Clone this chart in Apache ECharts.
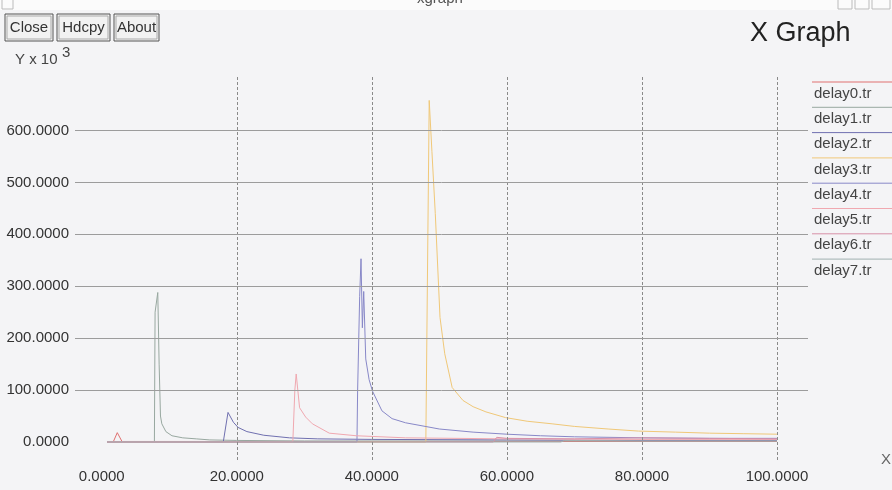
<!DOCTYPE html>
<html>
<head>
<meta charset="utf-8">
<script src="https://cdn.jsdelivr.net/npm/echarts@6/dist/echarts.min.js"></script>
<style>html,body{margin:0;padding:0;background:#f4f4f6;}#c{width:892px;height:490px;}</style>
</head>
<body>
<div id="c"></div>
<script>
// ---- data ----
const xTicks = [0, 20, 40, 60, 80, 100];
const yTicks = [0, 100, 200, 300, 400, 500, 600];
const xGridTicks = [20, 40, 60, 80, 100];
const yGridTicks = [100, 200, 300, 400, 500, 600];
const seriesNames = ['delay0.tr','delay1.tr','delay2.tr','delay3.tr','delay4.tr','delay5.tr','delay6.tr','delay7.tr'];

const delay0 = [[0.8,0],[1.7,0],[2.3,18],[3.0,1],[10,1],[30,1],[60,1],[100,1]];
const delay1 = [[0.8,0],[7.8,0],[7.9,250],[8.3,288],[8.5,150],[8.7,50],[8.9,35],[9.5,20],[10.4,12],[12,8],[14,6],[16,4],[20,3],[30,2],[60,2],[100,2]];
const delay2 = [[0.8,0],[18.0,0],[18.7,57],[19.5,38],[20.2,28],[21.5,20],[24,13],[27.8,8],[32,6],[40,5],[60,4],[80,3],[100,3]];
const delay3 = [[0.8,0],[48.0,0],[48.3,400],[48.5,658],[48.9,560],[49.4,440],[50.1,240],[50.8,170],[51.9,105],[53.5,80],[55,68],[56.9,58],[59.8,47],[63,40],[66.7,35],[70,30],[75,25],[79.5,21],[85,19],[90,17],[95,16],[100,15]];
const delay4 = [[0.8,0],[37.8,0],[37.9,100],[38.2,280],[38.4,353],[38.6,220],[38.8,290],[39.1,160],[39.6,120],[40.1,98],[41.5,60],[43,45],[45,37],[50,25],[55,19],[60,15],[65,12],[70,10],[80,8],[90,7],[100,7]];
const delay5 = [[0.8,0],[28.3,0],[28.6,100],[28.8,131],[29.3,66],[30.2,48],[31.2,35],[33.7,17],[37.7,12],[45,8],[60,6],[80,5],[100,5]];
const delay6 = [[0.8,0],[58,0],[58.5,9],[60,7],[70,6],[80,8],[90,7],[100,6]];
const delay7 = [[0.8,0],[68,0],[68.5,3],[80,2],[100,2]];
const seriesData = [delay0, delay1, delay2, delay3, delay4, delay5, delay6, delay7];
const seriesColors = ['#e07070','#98a8a0','#7070b0','#f0c878','#8888c8','#f0a8b0','#d890a8','#a0b0b0'];

// ---- chart ----
const chart = echarts.init(document.getElementById('c'), null, {renderer:'canvas'});
const FONT = '"Liberation Sans", Arial, sans-serif';

const series = seriesData.map((d, i) => ({
  name: seriesNames[i], type: 'line', data: d, symbol: 'none', silent: true,
  lineStyle: {color: seriesColors[i], width: 1}, itemStyle: {color: seriesColors[i]},
  z: 3
}));
series.unshift({
  name: 'grid', type: 'line', data: [[0,0]], symbol: 'none', silent: true,
  lineStyle: {opacity: 0}, z: 1,
  markLine: {
    silent: true, symbol: ['none','none'], label: {show: false},
    animation: false,
    data: [
      ...xGridTicks.map(v => ({xAxis: v, lineStyle: {color: '#8a8a8a', width: 1, type: [3, 2]}})),
      ...yGridTicks.map(v => ({yAxis: v, lineStyle: {color: '#9c9c9c', width: 1, type: 'solid'}}))
    ]
  }
});

const legendGraphics = [];
seriesNames.forEach((n, i) => {
  legendGraphics.push({type: 'line', shape: {x1: 812, y1: 82 + 25.3*i, x2: 892, y2: 82 + 25.3*i},
    style: {stroke: seriesColors[i], lineWidth: 1}});
  legendGraphics.push({type: 'text', x: 814, y: 86 + 25.3*i,
    style: {text: n, font: '15px ' + FONT, fill: '#444', verticalAlign: 'top'}});
});

function button(x, y, w, h, label) {
  return [
    {type: 'rect', shape: {x: x, y: y, width: w, height: h}, style: {fill: '#f2f2f2', stroke: '#555', lineWidth: 1}},
    {type: 'rect', shape: {x: x+2, y: y+2, width: w-4, height: h-4}, style: {fill: 'none', stroke: '#aaa', lineWidth: 1}},
    {type: 'text', x: x + w/2, y: y + h/2, style: {text: label, font: '15px ' + FONT, fill: '#333', align: 'center', verticalAlign: 'middle'}}
  ];
}

chart.setOption({
  animation: false,
  backgroundColor: '#f4f4f6',
  grid: {left: 75, right: 84, top: 75, bottom: 30, containLabel: false},
  xAxis: {
    type: 'value', min: -3.96, max: 104.6,
    axisLine: {show: false}, axisTick: {show: false}, splitLine: {show: false},
    axisLabel: {customValues: xTicks, formatter: v => v.toFixed(4), margin: 9,
      color: '#333', fontSize: 15, fontFamily: FONT, showMinLabel: true, showMaxLabel: true}
  },
  yAxis: {
    type: 'value', min: -34.7, max: 707,
    axisLine: {show: false}, axisTick: {show: false}, splitLine: {show: false},
    axisLabel: {customValues: yTicks, formatter: v => v.toFixed(4), margin: 6,
      color: '#333', fontSize: 15, fontFamily: FONT}
  },
  series: series,
  graphic: [
    {type: 'rect', shape: {x: 0, y: 0, width: 892, height: 10}, style: {fill: '#fbfbfb'}},
    {type: 'rect', shape: {x: 2, y: -3, width: 11, height: 12}, style: {fill: 'none', stroke: '#bbb'}},
    {type: 'text', x: 417, y: -9, style: {text: 'xgraph', font: '15px ' + FONT, fill: '#555', verticalAlign: 'top'}},
    {type: 'rect', shape: {x: 838, y: -3, width: 14, height: 12}, style: {fill: 'none', stroke: '#bbb'}},
    {type: 'rect', shape: {x: 855, y: -3, width: 14, height: 12}, style: {fill: 'none', stroke: '#bbb'}},
    {type: 'rect', shape: {x: 872, y: -3, width: 18, height: 12}, style: {fill: 'none', stroke: '#bbb'}},
    ...button(5, 14, 48, 27, 'Close'),
    ...button(57, 14, 53, 27, 'Hdcpy'),
    ...button(114, 14, 45, 27, 'About'),
    {type: 'text', x: 15, y: 52, style: {text: 'Y x 10', font: '15px ' + FONT, fill: '#444', verticalAlign: 'top'}},
    {type: 'text', x: 62, y: 45, style: {text: '3', font: '15px ' + FONT, fill: '#444', verticalAlign: 'top'}},
    {type: 'text', x: 750, y: 20, style: {text: 'X Graph', font: '27px ' + FONT, fill: '#222', verticalAlign: 'top'}},
    {type: 'text', x: 881, y: 452, style: {text: 'X', font: '15px ' + FONT, fill: '#666', verticalAlign: 'top'}},
    ...legendGraphics
  ]
});
</script>
</body>
</html>
